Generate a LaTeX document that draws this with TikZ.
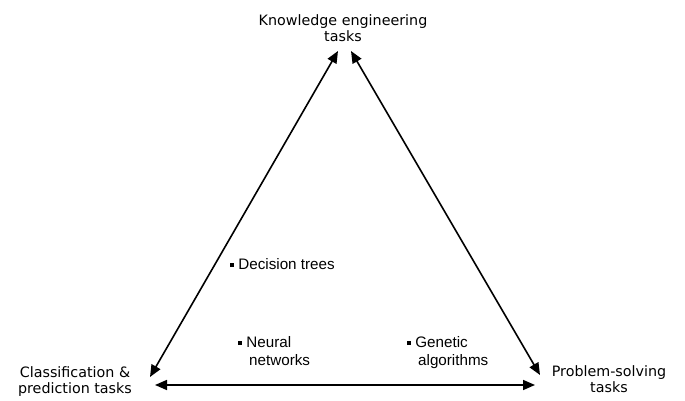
\documentclass[tikz,border=0pt]{standalone}
\usepackage{fontspec}
\setmainfont{DejaVu Sans}
\newfontfamily\arialfont{Liberation Sans}
\usetikzlibrary{arrows.meta}
\newcommand{\sqbul}{\raisebox{2.8pt}{\rule{3.8pt}{3.8pt}}\hspace{4.4pt}}
\tikzset{
  task/.style={inner sep=0pt, align=center, anchor=base,
    font=\fontsize{14.3pt}{16.5pt}\selectfont},
  method/.style={inner sep=0pt, align=left, anchor=base west,
    font=\arialfont\fontsize{15.2pt}{18pt}\selectfont},
  link/.style={line width=1.6pt, {Triangle[length=12pt,width=10pt]}-{Triangle[length=12pt,width=10pt]}}
}
\begin{document}
\begin{tikzpicture}[x=1pt,y=1pt]
\useasboundingbox (0,0) rectangle (685,401);
% task nodes
\node[task] (know) at (343,359) {Knowledge engineering\\tasks};
\node[task] (class) at (75,7) {Classification \&\\prediction tasks};
\node[task] (prob) at (609,8) {Problem-solving\\tasks};
% method labels
\node[method] (dec) at (230,131) {\sqbul Decision trees};
\node[method] (neur) at (238,35) {\sqbul Neural\\\hspace*{11pt}networks};
\node[method] (gen) at (407,35) {\sqbul Genetic\\\hspace*{11pt}algorithms};
% connector ends
\coordinate (ckT) at (338,350);
\coordinate (ckB) at (150,24);
\coordinate (kpT) at (351,350);
\coordinate (kpB) at (540,26);
\coordinate (cpL) at (155,16);
\coordinate (cpR) at (535,16);
\draw[link] (ckB) -- (ckT);
\draw[link] (kpT) -- (kpB);
\draw[link] (cpL) -- (cpR);
\end{tikzpicture}
\end{document}
